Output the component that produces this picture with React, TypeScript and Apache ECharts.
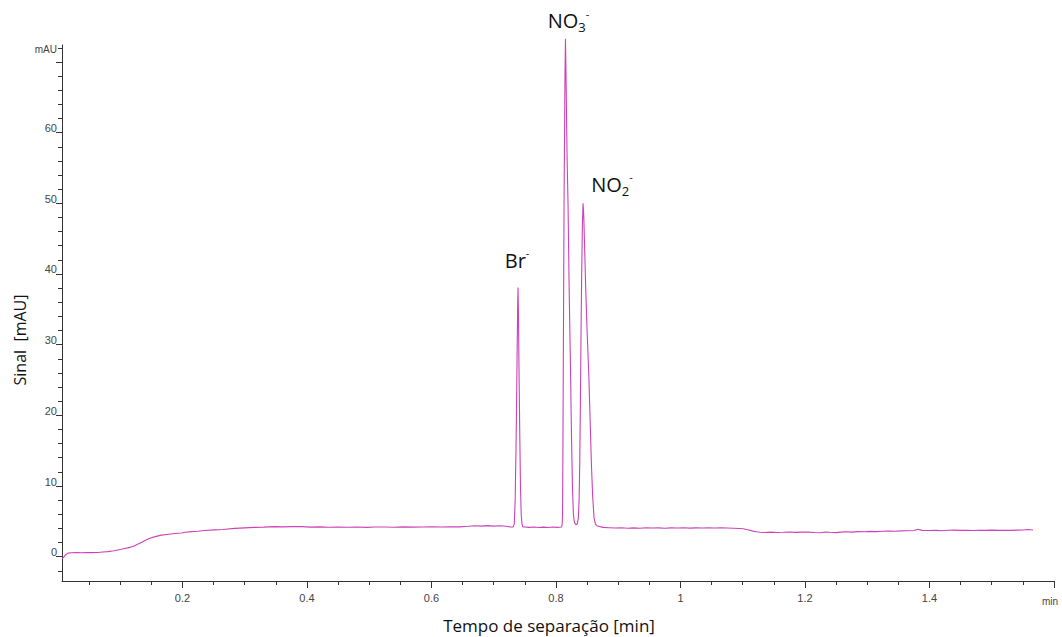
import React, { useEffect, useRef } from "react";
import * as echarts from "echarts";

// ---- data: time [min], signal [mAU] ----
const riseSegment: [number, number][] = [
  [0.0066, -0.25], [0.0098, -0.05], [0.012, 0.25], [0.0162, 0.5], [0.022, 0.55], [0.03, 0.58],
  [0.038, 0.56], [0.046, 0.6], [0.054, 0.57], [0.064, 0.6], [0.072, 0.66], [0.0805, 0.72],
  [0.09, 0.85], [0.102, 1.05], [0.112, 1.25], [0.1206, 1.45], [0.128, 1.75], [0.134, 2.0],
  [0.14, 2.3], [0.1475, 2.6], [0.155, 2.8], [0.166, 3.05], [0.175, 3.15], [0.185, 3.25],
  [0.198, 3.35], [0.205, 3.45], [0.2145, 3.55], [0.225, 3.6], [0.235, 3.7], [0.252, 3.8],
  [0.265, 3.85], [0.284, 4.0], [0.3, 4.08], [0.316, 4.15], [0.33, 4.18], [0.348, 4.25],
  [0.36, 4.22], [0.375, 4.26], [0.393, 4.25],
];
const plateauSegment: [number, number][] = [
  [0.405, 4.18], [0.42, 4.22], [0.435, 4.16], [0.45, 4.2], [0.465, 4.17], [0.48, 4.21],
  [0.495, 4.15], [0.51, 4.19], [0.525, 4.2], [0.54, 4.17], [0.555, 4.22], [0.57, 4.18],
  [0.585, 4.2], [0.6, 4.23], [0.615, 4.19], [0.63, 4.24], [0.645, 4.22], [0.66, 4.3],
  [0.67, 4.38], [0.68, 4.32], [0.69, 4.4], [0.7, 4.33], [0.71, 4.38], [0.72, 4.3],
  [0.727, 4.2],
];
const brPeak: [number, number][] = [
  [0.7315, 4.22], [0.733, 4.6], [0.7345, 8], [0.7358, 15], [0.7368, 22], [0.7378, 30],
  [0.7386, 36], [0.7391, 38.1], [0.7397, 35], [0.7406, 27], [0.7418, 18], [0.743, 10],
  [0.7442, 6], [0.7455, 4.6], [0.747, 4.2],
];
const midSegment: [number, number][] = [
  [0.75, 4.2], [0.757, 4.15], [0.765, 4.2], [0.772, 4.12], [0.78, 4.18], [0.788, 4.14],
  [0.795, 4.2], [0.802, 4.15], [0.809, 4.2],
];
const no3Peak: [number, number][] = [
  [0.81, 4.6], [0.8106, 6], [0.8112, 15], [0.8118, 27], [0.8125, 40], [0.8131, 51],
  [0.8137, 58], [0.8145, 68], [0.8153, 73.3], [0.8162, 68], [0.8172, 61], [0.818, 56],
  [0.8194, 50], [0.8212, 38], [0.8233, 27], [0.825, 17], [0.8265, 10], [0.828, 6],
  [0.8295, 4.9], [0.8315, 4.55], [0.833, 4.55],
];
const no2Peak: [number, number][] = [
  [0.8345, 4.7], [0.836, 5.5], [0.8372, 8], [0.8382, 13], [0.8392, 21], [0.84, 29],
  [0.8412, 39], [0.8424, 46.5], [0.8435, 50.0], [0.8446, 48.5], [0.846, 44], [0.8478, 38],
  [0.85, 32], [0.8527, 26], [0.855, 19], [0.857, 13], [0.859, 8.5], [0.8612, 5.5],
  [0.8635, 4.6], [0.8665, 4.35],
];
const tailSegment: [number, number][] = [
  [0.8757, 4.15], [0.885, 4.1], [0.895, 4.05], [0.905, 4.1], [0.915, 4.02], [0.925, 4.08],
  [0.935, 4.03], [0.945, 4.1], [0.955, 4.05], [0.965, 4.08], [0.975, 4.02], [0.985, 4.07],
  [0.995, 4.05], [1.005, 4.1], [1.015, 4.04], [1.025, 4.08], [1.035, 4.06], [1.045, 4.1],
  [1.055, 4.05], [1.065, 4.08], [1.075, 4.06], [1.085, 4.03], [1.095, 3.98], [1.1006, 3.95],
  [1.108, 3.8], [1.115, 3.65], [1.122, 3.52], [1.1274, 3.45], [1.135, 3.42], [1.145, 3.47],
  [1.155, 3.43], [1.165, 3.45], [1.175, 3.5], [1.185, 3.44], [1.195, 3.47], [1.205, 3.48],
  [1.215, 3.42], [1.225, 3.38], [1.232, 3.5], [1.24, 3.45], [1.25, 3.4], [1.258, 3.48],
  [1.265, 3.52], [1.275, 3.47], [1.285, 3.55], [1.295, 3.52], [1.305, 3.58], [1.315, 3.55],
  [1.325, 3.6], [1.335, 3.62], [1.345, 3.6], [1.355, 3.65], [1.365, 3.67], [1.375, 3.7],
  [1.3817, 3.88], [1.388, 3.72], [1.398, 3.7], [1.41, 3.72], [1.42, 3.68], [1.43, 3.74],
  [1.44, 3.76], [1.45, 3.72], [1.46, 3.74], [1.47, 3.7], [1.48, 3.75], [1.49, 3.72],
  [1.5, 3.76], [1.51, 3.73], [1.52, 3.75], [1.53, 3.72], [1.54, 3.76], [1.55, 3.78],
  [1.558, 3.85], [1.5664, 3.78],
];

// peak annotations (apex time, label anchor signal)
const peakNames = ["Br", "NO3", "NO2"];
const peakTimes = [0.7391, 0.8153, 0.8435];
const peakAnchors = [38.1, 70, 50.0];

// axis ticks
const xMajorTicks = [0.2, 0.4, 0.6, 0.8, 1.0, 1.2, 1.4, 1.6];
const xMinorTicks = [
  0.05, 0.1, 0.15, 0.2, 0.25, 0.3, 0.35, 0.4, 0.45, 0.5, 0.55, 0.6, 0.65, 0.7, 0.75, 0.8,
  0.85, 0.9, 0.95, 1.0, 1.05, 1.1, 1.15, 1.2, 1.25, 1.3, 1.35, 1.4, 1.45, 1.5, 1.55, 1.6,
];
const yLabelTicks = [0, 10, 20, 30, 40, 50, 60];
const yMajorTicks = [0, 10, 20, 30, 40, 50, 60, 70];
const yMinorTicks = [
  -2, 0, 2, 4, 6, 8, 10, 12, 14, 16, 18, 20, 22, 24, 26, 28, 30, 32, 34, 36, 38, 40,
  42, 44, 46, 48, 50, 52, 54, 56, 58, 60, 62, 64, 66, 68, 70, 72,
];

const X_MIN = 0.0066;
const X_MAX = 1.6;
const Y_MIN = -3.44;
const Y_MAX = 72.4;

export default function App() {
  const ref = useRef<HTMLDivElement>(null);

  useEffect(() => {
    if (!ref.current) return;
    const chart = echarts.init(ref.current, null, { renderer: "svg" });
    const trace = [
      ...riseSegment,
      ...plateauSegment,
      ...brPeak,
      ...midSegment,
      ...no3Peak,
      ...no2Peak,
      ...tailSegment,
    ];
    const axisColor = "#333";
    const tickFont = "Liberation Sans, Arial, sans-serif";
    const labelFont = "Open Sans, sans-serif";

    const labelFormats: Record<string, string> = {
      Br: "{m|Br}{sup|-}",
      NO3: "{m|NO}{sub|3}{sup|-}",
      NO2: "{m|NO}{sub|2}{sup|-}",
    };
    const labelOffsets: Record<string, number[]> = {
      Br: [-1, -27],
      NO3: [3, -41],
      NO2: [29, -19],
    };

    chart.setOption({
      animation: false,
      grid: { left: 62, right: 8, top: 45, bottom: 56, containLabel: false },
      xAxis: [
        {
          type: "value",
          position: "bottom",
          min: X_MIN,
          max: X_MAX,
          axisLine: { show: true, onZero: false, lineStyle: { color: axisColor, width: 1 } },
          axisTick: { show: true, length: 7, customValues: xMajorTicks, lineStyle: { color: axisColor } },
          axisLabel: {
            show: true,
            customValues: xMajorTicks,
            margin: 11,
            color: "#444",
            fontFamily: tickFont,
            fontSize: 11,
            formatter: (v: number) =>
              Math.abs(v - 1.6) < 1e-6 ? "{u|min}" : String(Number(v.toFixed(1))),
            rich: { u: { fontSize: 10, color: "#444", fontFamily: tickFont, padding: [4, 8, 0, 0] } },
          },
          splitLine: { show: false },
        },
        {
          type: "value",
          position: "bottom",
          min: X_MIN,
          max: X_MAX,
          axisLine: { show: false, onZero: false },
          axisTick: { show: true, length: 4, customValues: xMinorTicks, lineStyle: { color: axisColor } },
          axisLabel: { show: false },
          splitLine: { show: false },
        },
      ],
      yAxis: [
        {
          type: "value",
          position: "left",
          min: Y_MIN,
          max: Y_MAX,
          name: "mAU",
          nameLocation: "end",
          nameGap: -4.5,
          nameTextStyle: {
            align: "right",
            verticalAlign: "middle",
            padding: [0, 5, 0, 0],
            color: "#444",
            fontFamily: tickFont,
            fontSize: 10,
          },
          axisLine: { show: true, onZero: false, lineStyle: { color: axisColor, width: 1 } },
          axisTick: { show: true, length: 6, customValues: yMajorTicks, lineStyle: { color: axisColor } },
          axisLabel: {
            show: true,
            customValues: yLabelTicks,
            margin: 5,
            color: "#444",
            fontFamily: tickFont,
            fontSize: 11,
            verticalAlign: "bottom",
            lineHeight: 9,
          },
          splitLine: { show: false },
        },
        {
          type: "value",
          position: "left",
          min: Y_MIN,
          max: Y_MAX,
          axisLine: { show: false, onZero: false },
          axisTick: { show: true, length: 4, customValues: yMinorTicks, lineStyle: { color: axisColor } },
          axisLabel: { show: false },
          splitLine: { show: false },
        },
      ],
      series: [
        {
          type: "line",
          xAxisIndex: 0,
          yAxisIndex: 0,
          data: trace,
          showSymbol: false,
          symbol: "none",
          clip: false,
          lineStyle: { color: "#cc42b8", width: 1.1 },
          emphasis: { disabled: true },
          markPoint: {
            symbol: "circle",
            symbolSize: 1,
            itemStyle: { color: "rgba(0,0,0,0)" },
            emphasis: { disabled: true },
            data: peakNames.map((n, i) => ({
              name: n,
              coord: [peakTimes[i], peakAnchors[i]],
              label: {
                show: true,
                position: "inside",
                offset: labelOffsets[n],
                formatter: labelFormats[n],
                rich: {
                  m: { fontSize: 20, lineHeight: 26, fontFamily: labelFont, color: "#111", verticalAlign: "middle" },
                  sub: { fontSize: 13, lineHeight: 13, fontFamily: labelFont, color: "#111", verticalAlign: "bottom" },
                  sup: { fontSize: 11, lineHeight: 11, fontFamily: labelFont, color: "#111", verticalAlign: "top" },
                },
              },
            })),
          },
        },
      ],
      graphic: [
        {
          type: "text",
          x: 549,
          y: 625,
          style: {
            text: "Tempo de separação [min]",
            font: "17px 'Open Sans', sans-serif",
            fill: "#111",
            align: "center",
            verticalAlign: "middle",
          },
        },
        {
          type: "text",
          x: 20,
          y: 340,
          rotation: Math.PI / 2,
          style: {
            text: "Sinal  [mAU]",
            font: "16px 'Open Sans', sans-serif",
            fill: "#111",
            align: "center",
            verticalAlign: "middle",
          },
        },
      ],
    });
    return () => chart.dispose();
  }, []);

  return (
    <div
      ref={ref}
      style={{ position: "fixed", left: 0, top: 0, width: 1062, height: 637, background: "#fff" }}
    />
  );
}
